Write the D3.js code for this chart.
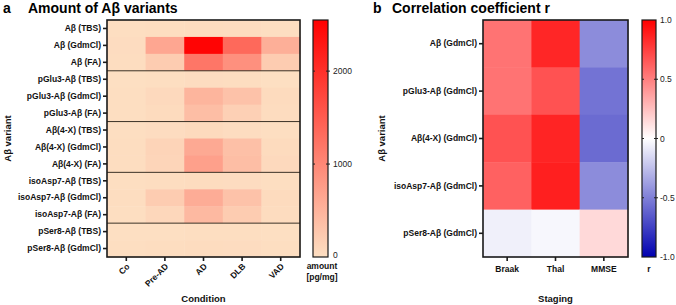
<!DOCTYPE html>
<html>

<head>
  <meta charset="utf8">
  <script src="https://d3js.org/d3.v7.min.js"></script>
  <style>
    body { margin: 0; background: white; }
    text { font-family: "Liberation Sans", Arial, sans-serif; }
    .lbl { font-weight: bold; font-size: 8.5px; fill: #111; }
    .cb text { font-size: 8.5px; fill: #222; }
  </style>
</head>

<body>
  <svg id="chart" width="676" height="305"></svg>

  <script>
    var conditions = ['Co', 'Pre-AD', 'AD', 'DLB', 'VAD'];
    var variants = ['Aβ (TBS)', 'Aβ (GdmCl)', 'Aβ (FA)',
      'pGlu3-Aβ (TBS)', 'pGlu3-Aβ (GdmCl)', 'pGlu3-Aβ (FA)',
      'Aβ(4-X) (TBS)', 'Aβ(4-X) (GdmCl)', 'Aβ(4-X) (FA)',
      'isoAsp7-Aβ (TBS)', 'isoAsp7-Aβ (GdmCl)', 'isoAsp7-Aβ (FA)',
      'pSer8-Aβ (TBS)', 'pSer8-Aβ (GdmCl)'];
    // amount [pg/mg], one row per variant, columns = conditions
    var amounts = [
      [10, 20, 40, 30, 10],
      [30, 650, 2500, 1350, 550],
      [20, 220, 1200, 900, 220],
      [5, 10, 30, 20, 5],
      [10, 70, 480, 330, 50],
      [10, 50, 380, 170, 40],
      [10, 30, 60, 30, 10],
      [20, 130, 620, 350, 50],
      [20, 120, 720, 380, 70],
      [10, 20, 40, 30, 10],
      [20, 220, 580, 330, 50],
      [15, 90, 430, 220, 40],
      [5, 5, 10, 10, 5],
      [10, 20, 40, 30, 15]
    ];
    var amountTicks = [0, 1000, 2000];

    var staging = ['Braak', 'Thal', 'MMSE'];
    var corrVariants = ['Aβ (GdmCl)', 'pGlu3-Aβ (GdmCl)', 'Aβ(4-X) (GdmCl)', 'isoAsp7-Aβ (GdmCl)', 'pSer8-Aβ (GdmCl)'];
    var corr = [
      [0.55, 0.85, -0.45],
      [0.55, 0.68, -0.55],
      [0.68, 0.86, -0.58],
      [0.62, 0.88, -0.45],
      [-0.06, -0.03, 0.15]
    ];
    var rTicks = [-1, -0.5, 0, 0.5, 1];
    var rTickLabels = ['-1.0', '-0.5', '0', '0.5', '1.0'];

    var svg = d3.select('#chart');

    // ---------- panel a ----------
    var a = { left: 107, right: 300, top: 20, bottom: 257 };
    var xa = d3.scaleBand().domain(conditions).range([a.left, a.right]);
    var ya = d3.scaleBand().domain(variants).range([a.top, a.bottom]);
    var amountMax = 2550;
    var ca = d3.scaleLinear().domain([0, amountMax]).range(['#fddfc2', '#ff0000']).clamp(true);

    var cellsA = [];
    amounts.forEach((row, i) => row.forEach((v, j) => cellsA.push({ r: variants[i], c: conditions[j], v })));
    svg.append('g').selectAll('rect').data(cellsA).enter().append('rect')
      .attr('x', (d) => xa(d.c)).attr('y', (d) => ya(d.r))
      .attr('width', xa.bandwidth() + 0.5).attr('height', ya.bandwidth() + 0.5)
      .attr('fill', (d) => ca(d.v));

    // group separators
    [3, 6, 9, 12].forEach((i) => {
      svg.append('line').attr('x1', a.left).attr('x2', a.right)
        .attr('y1', ya(variants[i])).attr('y2', ya(variants[i]))
        .attr('stroke', '#3b3226').attr('stroke-width', 1);
    });

    svg.append('rect').attr('x', a.left).attr('y', a.top)
      .attr('width', a.right - a.left).attr('height', a.bottom - a.top)
      .attr('fill', 'none').attr('stroke', '#1a1a1a').attr('stroke-width', 1.6);

    var yAxA = svg.append('g').attr('transform', 'translate(' + a.left + ',0)')
      .call(d3.axisLeft(ya).tickSize(4).tickPadding(2));
    var xAxA = svg.append('g').attr('transform', 'translate(0,' + a.bottom + ')')
      .call(d3.axisBottom(xa).tickSize(4).tickFormat(''));
    [yAxA, xAxA].forEach((g) => {
      g.select('.domain').remove();
      g.selectAll('line').attr('stroke', '#1a1a1a').attr('stroke-width', 1.6);
    });
    yAxA.selectAll('text').attr('class', 'lbl');

    svg.append('g').selectAll('text').data(conditions).enter().append('text')
      .attr('class', 'lbl')
      .attr('text-anchor', 'end')
      .attr('transform', (d) => 'translate(' + (xa(d) + xa.bandwidth() / 2 + 4) + ',' + 267 + ') rotate(-45)')
      .text((d) => d);

    svg.append('text').attr('class', 'lbl').style('font-size', '9.5px')
      .attr('text-anchor', 'middle').attr('x', (a.left + a.right) / 2).attr('y', 302).text('Condition');
    svg.append('text').attr('class', 'lbl').style('font-size', '9.5px')
      .attr('text-anchor', 'middle')
      .attr('transform', 'translate(11,' + (a.top + a.bottom) / 2 + ') rotate(-90)').text('Aβ variant');

    svg.append('text').attr('x', 3).attr('y', 13).style('font-weight', 'bold').style('font-size', '14px').text('a');
    svg.append('text').attr('x', 28).attr('y', 13).style('font-weight', 'bold').style('font-size', '14px').text('Amount of Aβ variants');

    // colour bar a
    var cbA = { x: 313, w: 15 };
    var cyA = d3.scaleLinear().domain([0, amountMax]).range([a.bottom, a.top]);
    var defs = svg.append('defs');
    var gradA = defs.append('linearGradient').attr('id', 'gA').attr('x1', 0).attr('x2', 0).attr('y1', 1).attr('y2', 0);
    gradA.selectAll('stop').data([0, amountMax]).enter().append('stop')
      .attr('offset', (d) => d / amountMax).attr('stop-color', (d) => ca(d));
    var gcbA = svg.append('g').attr('class', 'cb');
    gcbA.append('rect').attr('x', cbA.x).attr('y', a.top).attr('width', cbA.w).attr('height', a.bottom - a.top)
      .attr('fill', 'url(#gA)').attr('stroke', '#1a1a1a').attr('stroke-width', 1.2);
    amountTicks.forEach((t) => {
      if (t > 0) {
        gcbA.append('line').attr('x1', cbA.x).attr('x2', cbA.x + 2).attr('y1', cyA(t)).attr('y2', cyA(t)).attr('stroke', '#222');
        gcbA.append('line').attr('x1', cbA.x + cbA.w - 2).attr('x2', cbA.x + cbA.w + 2).attr('y1', cyA(t)).attr('y2', cyA(t)).attr('stroke', '#222');
      }
      gcbA.append('text').attr('x', cbA.x + cbA.w + 5).attr('y', cyA(t) + (t === 0 ? 1 : 3)).text(t);
    });
    svg.append('text').attr('class', 'lbl').attr('text-anchor', 'middle').attr('x', 322).attr('y', 269).text('amount');
    svg.append('text').attr('class', 'lbl').attr('text-anchor', 'middle').attr('x', 322).attr('y', 280).text('[pg/mg]');

    // ---------- panel b ----------
    var b = { left: 483, right: 628, top: 20, bottom: 257 };
    var xb = d3.scaleBand().domain(staging).range([b.left, b.right]);
    var yb = d3.scaleBand().domain(corrVariants).range([b.top, b.bottom]);
    var cb = d3.scaleLinear().domain([-1, 0, 1]).range(['#0000b0', '#ffffff', '#ff0000']).clamp(true);

    var cellsB = [];
    corr.forEach((row, i) => row.forEach((v, j) => cellsB.push({ r: corrVariants[i], c: staging[j], v })));
    svg.append('g').selectAll('rect').data(cellsB).enter().append('rect')
      .attr('x', (d) => xb(d.c)).attr('y', (d) => yb(d.r))
      .attr('width', xb.bandwidth() + 0.5).attr('height', yb.bandwidth() + 0.5)
      .attr('fill', (d) => cb(d.v));
    svg.append('rect').attr('x', b.left).attr('y', b.top)
      .attr('width', b.right - b.left).attr('height', b.bottom - b.top)
      .attr('fill', 'none').attr('stroke', '#1a1a1a').attr('stroke-width', 1.6);

    var yAxB = svg.append('g').attr('transform', 'translate(' + b.left + ',0)')
      .call(d3.axisLeft(yb).tickSize(4).tickPadding(2));
    var xAxB = svg.append('g').attr('transform', 'translate(0,' + b.bottom + ')')
      .call(d3.axisBottom(xb).tickSize(4).tickPadding(5));
    [yAxB, xAxB].forEach((g) => {
      g.select('.domain').remove();
      g.selectAll('line').attr('stroke', '#1a1a1a').attr('stroke-width', 1.6);
      g.selectAll('text').attr('class', 'lbl');
    });

    svg.append('text').attr('class', 'lbl').style('font-size', '9.5px')
      .attr('text-anchor', 'middle').attr('x', (b.left + b.right) / 2).attr('y', 302).text('Staging');
    svg.append('text').attr('class', 'lbl').style('font-size', '9.5px')
      .attr('text-anchor', 'middle')
      .attr('transform', 'translate(385,' + (b.top + b.bottom) / 2 + ') rotate(-90)').text('Aβ variant');

    svg.append('text').attr('x', 373).attr('y', 13).style('font-weight', 'bold').style('font-size', '14px').text('b');
    svg.append('text').attr('x', 392).attr('y', 13).style('font-weight', 'bold').style('font-size', '14px').text('Correlation coefficient r');

    // colour bar b
    var cbB = { x: 642, w: 14 };
    var cyB = d3.scaleLinear().domain([-1, 1]).range([b.bottom, b.top]);
    var gradB = defs.append('linearGradient').attr('id', 'gB').attr('x1', 0).attr('x2', 0).attr('y1', 1).attr('y2', 0);
    gradB.selectAll('stop').data([-1, 0, 1]).enter().append('stop')
      .attr('offset', (d) => (d + 1) / 2).attr('stop-color', (d) => cb(d));
    var gcbB = svg.append('g').attr('class', 'cb');
    gcbB.append('rect').attr('x', cbB.x).attr('y', b.top).attr('width', cbB.w).attr('height', b.bottom - b.top)
      .attr('fill', 'url(#gB)').attr('stroke', '#1a1a1a').attr('stroke-width', 1.2);
    rTicks.forEach((t, i) => {
      if (Math.abs(t) < 1) {
        gcbB.append('line').attr('x1', cbB.x).attr('x2', cbB.x + 2).attr('y1', cyB(t)).attr('y2', cyB(t)).attr('stroke', '#222');
        gcbB.append('line').attr('x1', cbB.x + cbB.w - 2).attr('x2', cbB.x + cbB.w + 2).attr('y1', cyB(t)).attr('y2', cyB(t)).attr('stroke', '#222');
      }
      gcbB.append('text').attr('x', cbB.x + cbB.w + 4).attr('y', cyB(t) + 3).text(rTickLabels[i]);
    });
    svg.append('text').attr('class', 'lbl').attr('text-anchor', 'middle').attr('x', 649).attr('y', 272).text('r');
  </script>
</body>

</html>
